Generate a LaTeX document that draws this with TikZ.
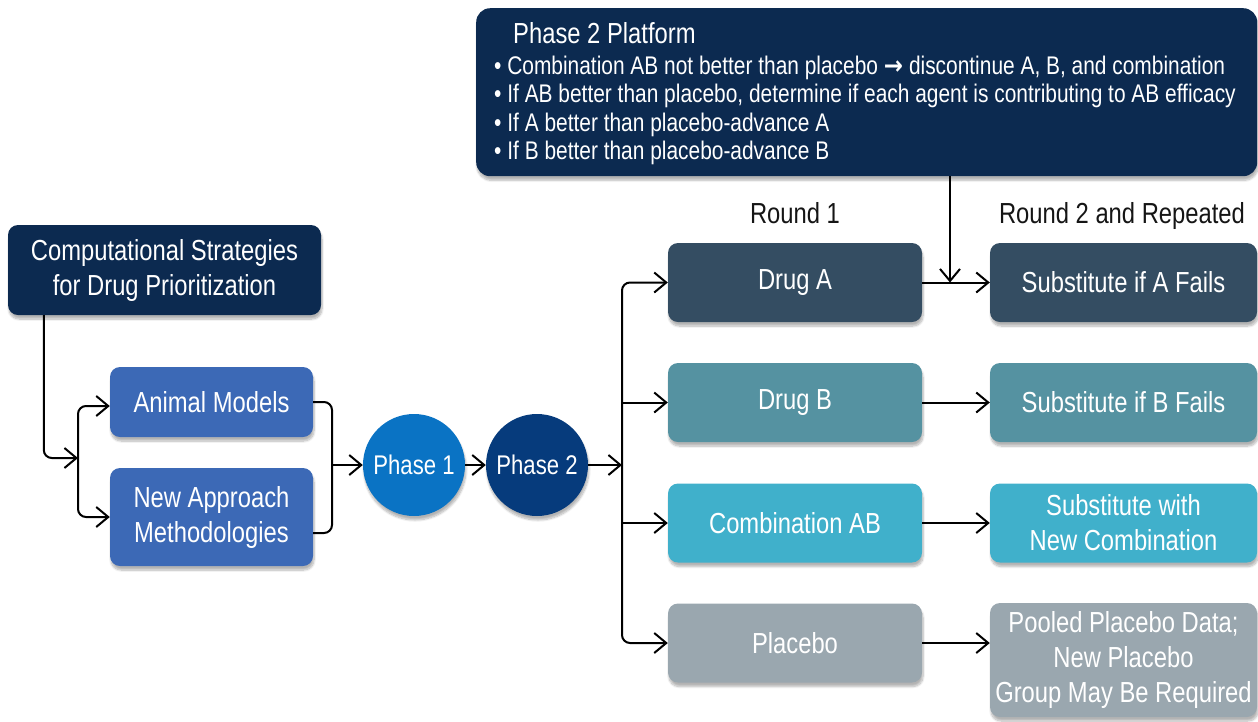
\documentclass[tikz,border=0pt]{standalone}
\usepackage{fontspec}
\setmainfont{Liberation Sans}[FakeStretch=0.82]
\newfontfamily\arrowfont{DejaVu Sans}[FakeStretch=0.9]
\usetikzlibrary{arrows.meta,shadows.blur}
\definecolor{navy}{HTML}{0C2A50}
\definecolor{midblue}{HTML}{3C69B6}
\definecolor{pone}{HTML}{0A73C4}
\definecolor{ptwo}{HTML}{063B7C}
\definecolor{cA}{HTML}{344D62}
\definecolor{cB}{HTML}{5592A1}
\definecolor{cAB}{HTML}{40B0CB}
\definecolor{cP}{HTML}{9AA7AF}
\definecolor{lbl}{HTML}{151515}
\begin{document}
\begin{tikzpicture}[x=1pt,y=-1pt,
  shd/.style={blur shadow={shadow xshift=1pt, shadow yshift=-4pt, shadow opacity=30, shadow blur steps=8}},
  rbox/.style={shd, rounded corners=10pt, inner sep=0pt, text=white, align=center,
    font=\fontsize{29}{35}\selectfont},
  dbox/.style={rbox, minimum width=254pt, minimum height=79pt},
  sbox/.style={rbox, minimum width=267pt, minimum height=79pt},
  circ/.style={shd, circle, inner sep=0pt, minimum size=102pt, text=white, font=\fontsize{27}{32}\selectfont},
  conn/.style={line width=2pt, black},
  arr/.style={conn, -{Straight Barb[length=12pt,width=20pt]}},
  btxt/.style={anchor=base west, inner sep=0pt, text=white, font=\fontsize{25.5}{30}\selectfont},
  rlbl/.style={anchor=base, inner sep=0pt, text=lbl, font=\fontsize{29}{35}\selectfont}]
\useasboundingbox (0,0) rectangle (1258,721);

% top platform box
\node[rbox, fill=navy, rounded corners=14pt, minimum width=781pt, minimum height=168pt, anchor=north west] (plat) at (476,8) {};
\node[btxt, font=\fontsize{29}{35}\selectfont] (ptitle) at (513,43) {Phase 2 Platform};
\node[btxt] (b1) at (494,74) {• Combination AB not better than placebo {\arrowfont\bfseries →} discontinue A, B, and combination};
\node[btxt] (b2) at (494,102) {• If AB better than placebo, determine if each agent is contributing to AB efficacy};
\node[btxt] (b3) at (494,131) {• If A better than placebo-advance A};
\node[btxt] (b4) at (494,159) {• If B better than placebo-advance B};

% round labels
\node[rlbl] (r1) at (795,223) {Round 1};
\node[rlbl] (r2) at (1122,223) {Round 2 and Repeated};

% left column
\node[rbox, fill=navy, minimum width=313pt, minimum height=90pt] (comp) at (164.5,270) {Computational Strategies\\for Drug Prioritization};
\node[rbox, fill=midblue, minimum width=203pt, minimum height=70pt] (animal) at (211.5,402) {Animal Models};
\node[rbox, fill=midblue, minimum width=203pt, minimum height=98pt] (nam) at (211.5,517) {New Approach\\Methodologies};

% phases
\node[circ, fill=pone] (p1) at (414,465) {Phase 1};
\node[circ, fill=ptwo] (p2) at (537,465) {Phase 2};

% round 1
\node[dbox, fill=cA] (drugA) at (795,282.5) {Drug A};
\node[dbox, fill=cB] (drugB) at (795,402.5) {Drug B};
\node[dbox, fill=cAB] (comb) at (795,523) {Combination AB};
\node[dbox, fill=cP] (plac) at (795,643) {Placebo};

% round 2
\node[sbox, fill=cA] (subA) at (1123.5,282.5) {Substitute if A Fails};
\node[sbox, fill=cB] (subB) at (1123.5,402.5) {Substitute if B Fails};
\node[sbox, fill=cAB] (subC) at (1123.5,523) {Substitute with\\New Combination};
\node[sbox, fill=cP, minimum height=114pt] (pool) at (1123.5,660) {Pooled Placebo Data;\\New Placebo\\Group May Be Required};

% junction coordinates
\coordinate (jL) at (78,458);
\coordinate (jR) at (332,465);
\coordinate (jP) at (622,465);
\coordinate (jT) at (950,282.5);

% connectors left
\draw[arr, rounded corners=8pt] ([xshift=36pt]comp.south west) |- (jL);
\draw[arr, rounded corners=8pt] (jL) |- ([yshift=-4pt]animal.west);
\draw[arr, rounded corners=8pt] (jL) |- (nam.west);
\draw[conn, rounded corners=8pt] (animal.east) -| (jR) |- ([yshift=-16pt]nam.east);
\draw[arr] (jR) -- (p1.west);
\draw[arr] (p1.east) -- (p2.west);
\draw[arr] (p2.east) -- (jP);

% bracket to round 1
\draw[arr, rounded corners=8pt] (jP) |- (drugA.west);
\draw[arr, rounded corners=8pt] (jP) |- (plac.west);
\draw[arr] (drugB.west -| jP) -- (drugB.west);
\draw[arr] (comb.west -| jP) -- (comb.west);

% round 1 to round 2
\draw[arr] (drugA.east) -- (subA.west);
\draw[arr] (drugB.east) -- (subB.west);
\draw[arr] (comb.east) -- (subC.west);
\draw[arr] (plac.east) -- (plac.east -| pool.west);

% platform to drug A line
\draw[arr] (jT |- plat.south) -- (jT);
\end{tikzpicture}
\end{document}
